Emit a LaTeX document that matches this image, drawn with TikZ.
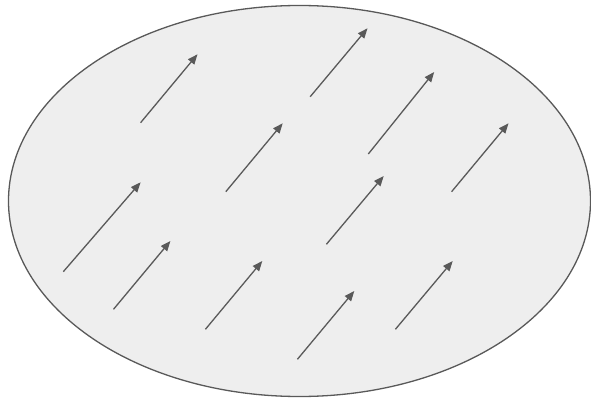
\documentclass[tikz,border=0pt]{standalone}
\usepackage{xcolor}
\usetikzlibrary{arrows.meta}
\definecolor{fieldfill}{HTML}{EEEEEE}
\definecolor{fieldline}{HTML}{595959}

\begin{document}
\begin{tikzpicture}[x=1pt,y=-1pt,
    vec/.style={draw=fieldline,line width=1.3pt,-{Triangle[length=10pt,width=8pt]}}]
  \useasboundingbox (0,0) rectangle (591,398);
  \draw[fill=fieldfill,draw=fieldline,line width=1.3pt] (299.5,201) ellipse [x radius=291, y radius=195.5];
  % field vectors: start / end
  \foreach \i/\xa/\ya/\xb/\yb in {
      1/140.6/122.7/197.5/54.3,  2/310.2/96.7/367.5/28.3,
      3/368.3/154/434.2/72,      4/225.8/191.7/282.7/123.3,
      5/451.6/191.7/508.5/123.3, 6/63.3/271.7/140.6/182.3,
      7/326.4/244.3/383.7/176,   8/113.5/309.3/170.4/241,
      9/205.4/329.3/262.3/261,   10/395.4/329.3/452.7/261,
      11/297.4/359.3/354.3/291}{
    \coordinate (s\i) at (\xa,\ya);
    \coordinate (e\i) at (\xb,\yb);
    \draw[vec] (s\i) -- (e\i);
  }
\end{tikzpicture}
\end{document}
